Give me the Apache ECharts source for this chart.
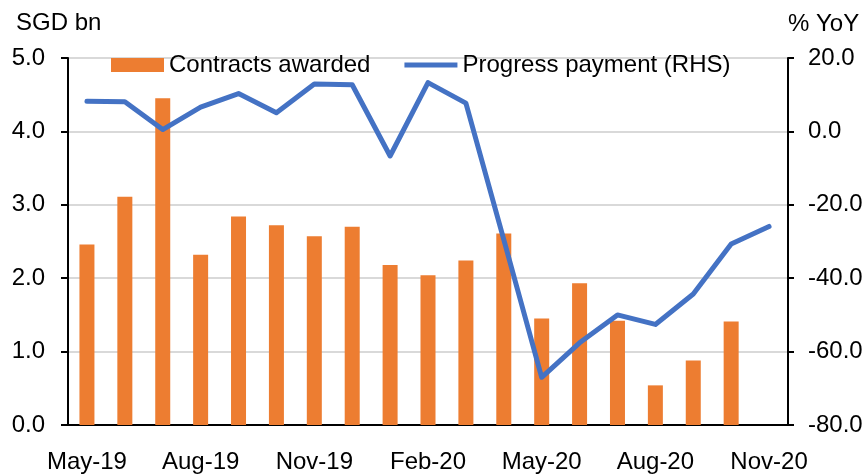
<!DOCTYPE html>
<html>
<head>
<meta charset="utf-8">
<script src="https://cdn.jsdelivr.net/npm/echarts@6/dist/echarts.min.js"></script>
<style>
  html, body { margin: 0; padding: 0; background: #fff; }
  #chart { width: 867px; height: 474px; }
</style>
</head>
<body>
<div id="chart"></div>
<script>
// monthly categories, May-19 .. Nov-20
const months = ['May-19', 'Jun-19', 'Jul-19', 'Aug-19', 'Sep-19', 'Oct-19', 'Nov-19', 'Dec-19',
  'Jan-20', 'Feb-20', 'Mar-20', 'Apr-20', 'May-20', 'Jun-20', 'Jul-20', 'Aug-20', 'Sep-20', 'Oct-20', 'Nov-20']

// SGD bn (left axis)
const contractsAwarded = [2.46, 3.11, 4.45, 2.32, 2.84, 2.72, 2.57, 2.70, 2.18, 2.04, 2.24, 2.61,
  1.45, 1.93, 1.42, 0.54, 0.88, 1.41, null]

// % YoY (right axis)
const progressPayment = [8.2, 8.1, 0.5, 6.6, 10.3, 5.1, 12.9, 12.7, -6.7, 13.3, 7.7, -29.5,
  -67.0, -57.6, -50.0, -52.6, -44.3, -30.7, -25.9]

const FONT = 'Liberation Sans'
const TXT = '#000'
const FS = 24

const chart = echarts.init(document.getElementById('chart'))

chart.setOption({
  animation: false,
  textStyle: { fontFamily: FONT },
  grid: {
    left: 68,
    right: 79,
    top: 58,
    bottom: 46
  },
  legend: {
    left: 106,
    top: 48,
    itemWidth: 53,
    itemHeight: 14,
    itemGap: 34,
    textStyle: { fontFamily: FONT, fontSize: FS, color: TXT },
    data: [
      { name: 'Contracts awarded', icon: 'rect' },
      // thick line marker, no dot
      { name: 'Progress payment (RHS)', icon: 'path://M0,0H53V5H0Z' }
    ]
  },
  graphic: [
    {
      type: 'text', left: 16, top: 11,
      style: { text: 'SGD bn', font: FS + 'px "Liberation Sans"', fill: TXT }
    },
    {
      type: 'text', left: 788, top: 12,
      style: { text: '% YoY', font: FS + 'px "Liberation Sans"', fill: TXT }
    }
  ],
  xAxis: {
    type: 'category',
    data: months,
    boundaryGap: true,
    axisLine: { lineStyle: { color: '#000', width: 2 } },
    axisTick: { interval: 2, length: 7, lineStyle: { color: '#000', width: 2 } },
    axisLabel: { interval: 2, margin: 25, fontSize: FS, color: TXT, fontFamily: FONT }
  },
  yAxis: [
    {
      type: 'value',
      min: 0,
      max: 5,
      interval: 1,
      axisLine: { show: true, lineStyle: { color: '#000', width: 2 } },
      axisTick: { show: true, length: 7, lineStyle: { color: '#000', width: 2 } },
      axisLabel: {
        margin: 23, fontSize: FS, color: TXT, fontFamily: FONT,
        formatter: v => v.toFixed(1)
      },
      splitLine: { show: true, lineStyle: { color: '#d9d9d9', width: 2 } }
    },
    {
      type: 'value',
      min: -80,
      max: 20,
      interval: 20,
      axisLine: { show: true, lineStyle: { color: '#000', width: 2 } },
      axisTick: { show: true, length: 6, lineStyle: { color: '#000', width: 2 } },
      axisLabel: {
        margin: 20, fontSize: FS, color: TXT, fontFamily: FONT,
        formatter: v => v.toFixed(1)
      },
      splitLine: { show: false }
    }
  ],
  series: [
    {
      name: 'Contracts awarded',
      type: 'bar',
      yAxisIndex: 0,
      barWidth: 15,
      itemStyle: { color: '#ED7D31' },
      data: contractsAwarded
    },
    {
      name: 'Progress payment (RHS)',
      type: 'line',
      yAxisIndex: 1,
      symbol: 'none',
      lineStyle: { color: '#4472C4', width: 5, join: 'round', cap: 'round' },
      itemStyle: { color: '#4472C4' },
      data: progressPayment
    }
  ]
})
</script>
</body>
</html>
